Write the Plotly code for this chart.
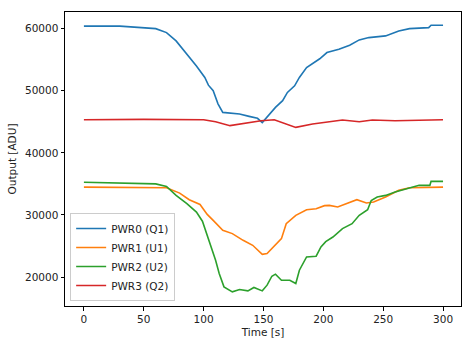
import plotly.graph_objects as go

# ---- data ----
t0 = [0, 30, 60, 69, 77, 86, 94, 101, 104, 108, 112, 116, 124, 130, 138, 145, 149, 155, 160, 166,
      170, 176, 180, 186, 192, 197, 203, 213, 222, 230, 238, 252, 263, 272, 288, 290, 300]
pwr0 = [60400, 60400, 60000, 59360, 58030, 55940, 54000, 52140, 50900, 50000, 47900, 46520, 46360,
        46260, 45880, 45560, 44870, 46300, 47320, 48400, 49730, 50800, 52140, 53740, 54540, 55150,
        56150, 56690, 57330, 58190, 58560, 58830, 59630, 60000, 60160, 60540, 60540]

t1 = [0, 60, 69, 80, 88, 97, 103, 108, 116, 124, 133, 141, 149, 153, 159, 165, 169, 177, 186, 194,
      201, 205, 212, 222, 228, 236, 242, 252, 263, 272, 286, 300]
pwr1 = [34480, 34480, 34380, 33520, 32460, 31700, 30100, 29130, 27530, 27000, 25920, 25120, 23670,
        23780, 24960, 26190, 28600, 29940, 30850, 31010, 31500, 31550, 31280, 31980, 32460, 31920,
        32090, 32890, 33960, 34380, 34480, 34480]

t2 = [0, 30, 60, 69, 77, 86, 94, 99, 102, 106, 110, 113, 117, 124, 130, 137, 142, 149, 153, 157,
      160, 165, 172, 177, 180, 186, 194, 198, 202, 208, 216, 224, 230, 237, 240, 245, 252, 260,
      269, 280, 289, 290, 300]
pwr2 = [35280, 35200, 35000, 34590, 33150, 31820, 30470, 29000, 27260, 25120, 22710, 20570, 18430,
        17620, 18010, 17780, 18330, 17780, 18700, 20140, 20470, 19500, 19500, 18970, 21110, 23250,
        23360, 24850, 25700, 26450, 27800, 28600, 29940, 30850, 32340, 32890, 33150, 33690, 34230,
        34770, 34770, 35410, 35410]

t3 = [0, 50, 100, 110, 122, 135, 148, 159, 166, 177, 191, 205, 216, 230, 241, 260, 288, 300]
pwr3 = [45330, 45400, 45330, 45000, 44380, 44810, 45180, 45330, 44900, 44100, 44650, 45020, 45280,
        45020, 45280, 45170, 45330, 45330]

names = ["PWR0 (Q1)", "PWR1 (U1)", "PWR2 (U2)", "PWR3 (Q2)"]
colors = ["#1f77b4", "#ff7f0e", "#2ca02c", "#d62728"]
x_ticks = [0, 50, 100, 150, 200, 250, 300]
y_ticks = [20000, 30000, 40000, 50000, 60000]

fig = go.Figure()
for t, v, n, c in zip([t0, t1, t2, t3], [pwr0, pwr1, pwr2, pwr3], names, colors):
    fig.add_trace(go.Scatter(x=t, y=v, mode="lines", name=n,
                             line=dict(color=c, width=1.6)))

axis_common = dict(showline=True, linecolor="black", linewidth=1, mirror=True,
                   ticks="outside", ticklen=3.5, tickcolor="black", showgrid=False,
                   zeroline=False, tickfont=dict(size=10.5, color="#222"))
fig.update_layout(
    width=473, height=347,
    margin=dict(l=65, r=11, t=11, b=40),
    paper_bgcolor="white", plot_bgcolor="white",
    font=dict(family="DejaVu Sans", size=10.5, color="#222"),
    xaxis=dict(range=[-15.8, 315], tickvals=x_ticks,
               title=dict(text="Time [s]", standoff=4, font=dict(size=10.5, color="#222")),
               **axis_common),
    yaxis=dict(range=[15345, 62680], tickvals=y_ticks, tickformat="d",
               title=dict(text="Output [ADU]", standoff=6, font=dict(size=10.5, color="#222")),
               **axis_common),
    legend=dict(x=0.013, y=0.017, xanchor="left", yanchor="bottom",
                bordercolor="#cccccc", borderwidth=1, bgcolor="rgba(255,255,255,0.8)",
                font=dict(size=10.5), tracegroupgap=0, itemwidth=30),
    showlegend=True,
)
fig.write_html("out.html")
